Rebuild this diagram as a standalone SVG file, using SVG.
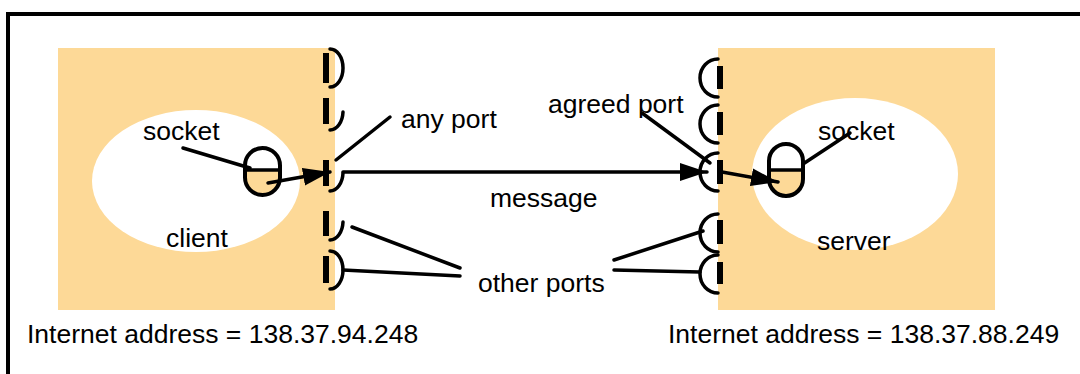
<svg xmlns="http://www.w3.org/2000/svg" width="1080" height="374" viewBox="0 0 1080 374">
  <style>
    .host { fill: #fdd997; }
    .proc { fill: #ffffff; }
    .ln { fill: none; stroke: #000; stroke-width: 3.5; stroke-linecap: round; }
    .sk { fill: none; stroke: #000; stroke-width: 4; }
    .bar { fill: none; stroke: #000; stroke-width: 6; }
    .lbl { font-family: "Liberation Sans", Arial, sans-serif; font-size: 26.5px; fill: #000; }
  </style>
  <defs>
    <marker id="arrow" markerUnits="userSpaceOnUse" markerWidth="28" markerHeight="20" refX="27" refY="9" orient="auto">
      <path d="M0,0 L27,9 L0,18 z" fill="#000"/>
    </marker>
  </defs>

  <rect width="1080" height="374" fill="#fff"/>
  <!-- frame -->
  <path d="M8,374 V14 H1080" fill="none" stroke="#000" stroke-width="4"/>

  <!-- client host -->
  <g id="client-host">
    <rect class="host" x="58" y="48" width="277" height="262"/>
    <ellipse class="proc" cx="196" cy="181" rx="104" ry="71"/>
    <text class="lbl" x="143" y="140">socket</text>
    <text class="lbl" x="166" y="247">client</text>
    <text class="lbl" x="27" y="343">Internet address = 138.37.94.248</text>
  </g>

  <!-- server host -->
  <g id="server-host">
    <rect class="host" x="718" y="48" width="277" height="262"/>
    <ellipse class="proc" cx="855" cy="174" rx="103" ry="76"/>
    <text class="lbl" x="818" y="140">socket</text>
    <text class="lbl" x="817" y="250">server</text>
    <text class="lbl" x="668" y="343">Internet address = 138.37.88.249</text>
  </g>

  <!-- client socket -->
  <g id="client-socket">
    <rect x="245" y="148" width="35" height="47" rx="17.5" fill="#fff"/>
    <path d="M245,170 H280 V177.5 A17.5,17.5 0 0 1 245,177.5 Z" class="host"/>
    <rect x="245" y="148" width="35" height="47" rx="17.5" class="sk"/>
    <line x1="245" y1="170" x2="280" y2="170" class="ln"/>
  </g>

  <!-- server socket -->
  <g id="server-socket">
    <rect x="769" y="144" width="34" height="52" rx="17" fill="#fff"/>
    <path d="M769,170 H803 V179 A17,17 0 0 1 769,179 Z" class="host"/>
    <rect x="769" y="144" width="34" height="52" rx="17" class="sk"/>
    <line x1="769" y1="170" x2="803" y2="170" class="ln"/>
  </g>

  <!-- client ports -->
  <g id="client-ports">
    <line x1="326" y1="53" x2="326" y2="83" class="bar"/>
    <path d="M330,49 A13,19 0 0 1 330,87" class="ln"/>
    <line x1="326" y1="98" x2="326" y2="124" class="bar"/>
    <path d="M330,130 A13,19 0 0 0 343,112" class="ln"/>
    <line x1="326" y1="160" x2="326" y2="186" class="bar"/>
    <path d="M330,191 A13,19 0 0 0 343,173" class="ln"/>
    <line x1="326" y1="211" x2="326" y2="236" class="bar"/>
    <path d="M330,240 A13,19 0 0 0 343,222" class="ln"/>
    <line x1="326" y1="256" x2="326" y2="283" class="bar"/>
    <path d="M330,251 A13,19 0 0 1 330,289" class="ln"/>
  </g>

  <!-- server ports -->
  <g id="server-ports">
    <line x1="720" y1="66" x2="720" y2="89" class="bar"/>
    <path d="M718,59 A18,19 0 0 0 718,97" class="ln"/>
    <line x1="720" y1="112" x2="720" y2="135" class="bar"/>
    <path d="M718,105 A18,19 0 0 0 718,143" class="ln"/>
    <line x1="720" y1="160" x2="720" y2="184" class="bar"/>
    <path d="M718,153 A18,19 0 0 0 718,191" class="ln"/>
    <line x1="720" y1="220" x2="720" y2="244" class="bar"/>
    <path d="M718,214 A18,19 0 0 0 718,252" class="ln"/>
    <line x1="720" y1="262" x2="720" y2="284" class="bar"/>
    <path d="M718,255 A18,19 0 0 0 718,293" class="ln"/>
  </g>

  <!-- labels between hosts -->
  <g id="labels">
    <text class="lbl" x="401" y="128">any port</text>
    <text class="lbl" x="548" y="113">agreed port</text>
    <text class="lbl" x="490" y="207">message</text>
    <text class="lbl" x="478" y="292">other ports</text>
  </g>

  <!-- connectors -->
  <g id="connectors">
    <line x1="183" y1="148" x2="250" y2="168" class="ln"/>
    <line x1="803" y1="164" x2="850" y2="133" class="ln"/>
    <line x1="268" y1="183" x2="330" y2="172" class="ln" marker-end="url(#arrow)"/>
    <line x1="343" y1="172" x2="707" y2="172" class="ln" marker-end="url(#arrow)"/>
    <line x1="722" y1="172" x2="778" y2="182" class="ln" marker-end="url(#arrow)"/>
    <line x1="390" y1="117" x2="336" y2="160" class="ln"/>
    <line x1="642" y1="113" x2="710" y2="163" class="ln"/>
    <line x1="352" y1="227" x2="460" y2="268" class="ln"/>
    <line x1="343" y1="270" x2="460" y2="276" class="ln"/>
    <line x1="614" y1="260" x2="703" y2="231" class="ln"/>
    <line x1="614" y1="270" x2="700" y2="272" class="ln"/>
  </g>
</svg>
